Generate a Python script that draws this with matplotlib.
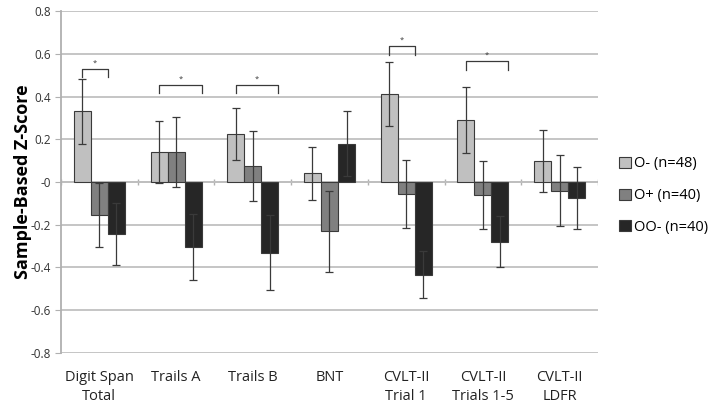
import numpy as np
import matplotlib
matplotlib.use('Agg')
import matplotlib.pyplot as plt

categories = ['Digit Span\nTotal', 'Trails A', 'Trails B', 'BNT',
              'CVLT-II\nTrial 1', 'CVLT-II\nTrials 1-5', 'CVLT-II\nLDFR']
series_names = ['O- (n=48)', 'O+ (n=40)', 'OO- (n=40)']
o_minus = [0.33, 0.14, 0.225, 0.04, 0.41, 0.29, 0.10]
o_plus = [-0.155, 0.14, 0.075, -0.23, -0.055, -0.06, -0.04]
oo_minus = [-0.245, -0.305, -0.33, 0.18, -0.435, -0.28, -0.075]
o_minus_err = [0.15, 0.145, 0.12, 0.125, 0.15, 0.155, 0.145]
o_plus_err = [0.15, 0.165, 0.165, 0.19, 0.16, 0.16, 0.165]
oo_minus_err = [0.145, 0.155, 0.175, 0.15, 0.11, 0.12, 0.145]
# significance brackets: group index, bracket top, right end (in bar widths)
sig_groups = [0, 1, 2, 4, 5]
sig_tops = [0.53, 0.455, 0.455, 0.635, 0.565]
sig_right = [0.5, 1.5, 1.5, 0.5, 1.5]

colors = ['#c0c0c0', '#808080', '#262626']
font = ['Open Sans', 'DejaVu Sans']
plt.rcParams['font.family'] = font

fig = plt.figure(figsize=(7.14, 4.09), dpi=100)
ax = fig.add_axes([0.0854, 0.137, 0.7521, 0.836])

x = np.arange(len(categories))
w = 0.222
values = [o_minus, o_plus, oo_minus]
errors = [o_minus_err, o_plus_err, oo_minus_err]
for i in range(3):
    pos = x + (i - 1) * w
    ax.bar(pos, values[i], w, color=colors[i], edgecolor='#3a3a3a',
           linewidth=0.8, label=series_names[i], zorder=3)
    ax.errorbar(pos, values[i], yerr=errors[i], fmt='none', ecolor='#3a3a3a',
                elinewidth=0.9, capsize=3, capthick=0.9, zorder=4)

for g, top, r in zip(sig_groups, sig_tops, sig_right):
    x0 = g - w
    x1 = g + r * w
    ax.plot([x0, x0, x1, x1], [top - 0.04, top, top, top - 0.04],
            color='#3a3a3a', lw=0.9, zorder=4)
    ax.text((x0 + x1) / 2, top + 0.01, '*', ha='center', va='bottom',
            fontsize=5.5, color='#3a3a3a')

ax.set_xlim(-0.5, len(categories) - 0.5)
ax.set_ylim(-0.8, 0.8)
ax.set_yticks(np.arange(-0.8, 0.81, 0.2))
ax.set_yticklabels(['%g' % round(v, 1) for v in np.arange(-0.8, 0.81, 0.2)])
ax.grid(axis='y', color='#c0c0c0', linewidth=1.3, zorder=0)
ax.axhline(0, color='#b0b0b0', linewidth=1.3, zorder=1)
ax.vlines(np.arange(len(categories) + 1) - 0.5, -0.012, 0.012,
          color='#b0b0b0', linewidth=1, zorder=1)
for s in ['top', 'right', 'bottom']:
    ax.spines[s].set_visible(False)
ax.spines['left'].set_color('#b0b0b0')
ax.spines['left'].set_linewidth(1.3)
ax.set_xticks(x)
ax.set_xticklabels(categories, fontsize=10.5, color='#222222', linespacing=1.4)
ax.tick_params(axis='x', length=0, pad=12)
ax.tick_params(axis='y', length=4, color='#b0b0b0', labelsize=8.5,
               labelcolor='#333333')
ax.set_ylabel('Sample-Based Z-Score', fontsize=13, fontweight='bold',
              labelpad=-1)

ax.legend(loc='center left', bbox_to_anchor=(1.015, 0.46), frameon=False,
          fontsize=10.5, handlelength=0.8, handleheight=0.8,
          handletextpad=0.2, labelspacing=1.15)

fig.savefig('out.png', dpi=100)
